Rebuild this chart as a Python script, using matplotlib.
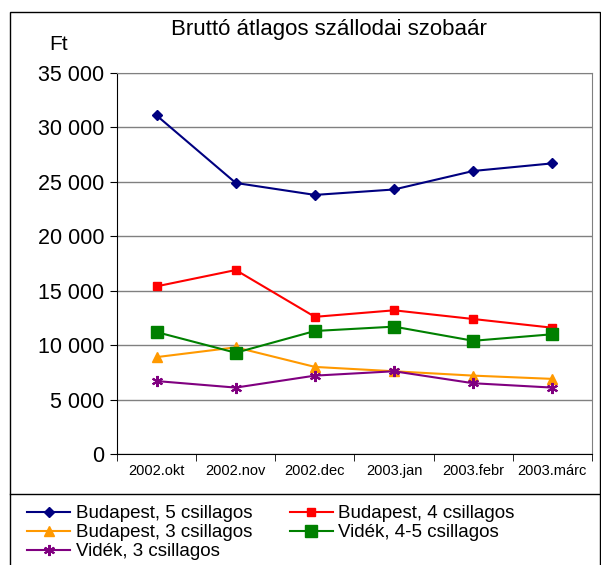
import numpy as np
import matplotlib
matplotlib.use("Agg")
import matplotlib.pyplot as plt
from matplotlib.patches import Rectangle
from matplotlib.lines import Line2D

plt.rcParams['font.family'] = ['Liberation Sans', 'DejaVu Sans']

# adatok
honapok = ["2002.okt", "2002.nov", "2002.dec", "2003.jan", "2003.febr", "2003.márc"]
bp5 = [31100, 24900, 23800, 24300, 26000, 26700]
bp4 = [15400, 16900, 12600, 13200, 12400, 11600]
bp3 = [8900, 9800, 8000, 7600, 7200, 6900]
videk45 = [11200, 9300, 11300, 11700, 10400, 11000]
videk3 = [6700, 6100, 7200, 7600, 6500, 6100]
y_ticks = [0, 5000, 10000, 15000, 20000, 25000, 30000, 35000]
y_labels = ["0", "5 000", "10 000", "15 000", "20 000", "25 000", "30 000", "35 000"]

W, H = 601, 565
fig = plt.figure(figsize=(W / 100, H / 100), dpi=100)

# kulso keret + jelmagyarazat elvalaszto vonala
fig.add_artist(Rectangle((10 / W, -0.01), (W - 11) / W, 1 - 12 / H + 0.01,
                         transform=fig.transFigure, fill=False, edgecolor="black", lw=1))
fig.add_artist(Line2D([10 / W, 1], [1 - 494 / H] * 2, transform=fig.transFigure, color="black", lw=1))

ax = fig.add_axes([117 / W, 1 - 454 / H, 475 / W, 381 / H])
x = np.arange(len(honapok))

l1, = ax.plot(x, bp5, color="#000080", marker="D", ms=5.5, lw=1.5, label="Budapest, 5 csillagos")
l2, = ax.plot(x, bp4, color="#FF0000", marker="s", ms=5.5, lw=1.5, label="Budapest, 4 csillagos")
l3, = ax.plot(x, bp3, color="#FF9900", marker="^", ms=7, lw=1.5, label="Budapest, 3 csillagos")
l4, = ax.plot(x, videk45, color="#008000", marker="s", ms=8, lw=1.5, label="Vidék, 4-5 csillagos")
l5, = ax.plot(x, videk3, color="#800080", marker=(6, 2, 0), ms=8, mew=1.5, lw=1.5, label="Vidék, 3 csillagos")

ax.set_xlim(-0.5, len(honapok) - 0.5)
ax.set_ylim(0, 35000)
ax.set_yticks(y_ticks)
ax.set_yticklabels(y_labels, fontsize=15.5)
ax.set_xticks(x)
ax.set_xticklabels(honapok, fontsize=10.5)
ax.tick_params(axis="x", length=0, pad=7)
ax.set_xticks(np.arange(-0.5, len(honapok)), minor=True)
ax.tick_params(axis="x", which="minor", length=5, direction="out")
ax.tick_params(axis="y", length=5, direction="out", pad=4)
ax.grid(axis="y", color="#808080", lw=1)
ax.set_axisbelow(True)
for s in ["top", "right"]:
    ax.spines[s].set_color("#808080")
ax.spines["left"].set_color("black")
ax.spines["bottom"].set_color("black")

fig.text(329 / W, 1 - 30 / H, "Bruttó átlagos szállodai szobaár", ha="center", va="center", fontsize=16)
fig.text(59 / W, 1 - 45 / H, "Ft", ha="center", va="center", fontsize=15)

fig.legend([l1, l3, l5, l2, l4], [l.get_label() for l in [l1, l3, l5, l2, l4]],
           ncol=2, loc="upper left", bbox_to_anchor=(27 / W, 1 - 505 / H), frameon=False,
           fontsize=13.5, handlelength=2.3, handletextpad=0.3, columnspacing=2.0,
           labelspacing=0.1, borderaxespad=0, borderpad=0)

fig.savefig("out.png", dpi=100)
